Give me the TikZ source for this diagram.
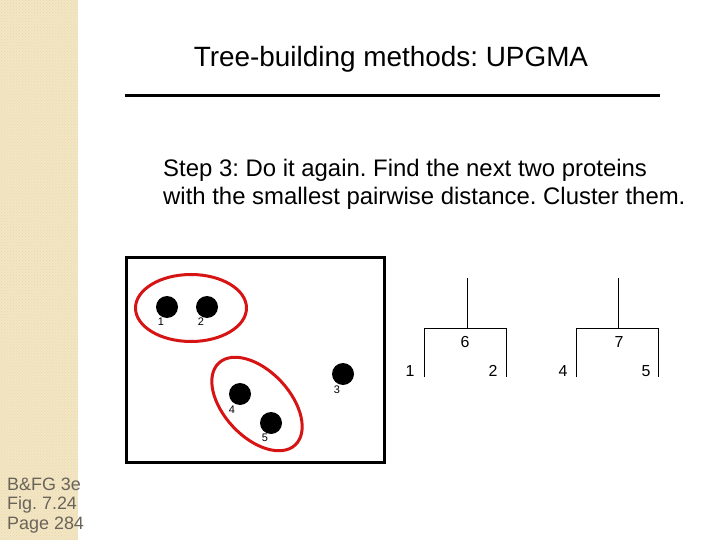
\documentclass[tikz,border=0pt]{standalone}
\usepackage{fontspec}
\setmainfont{Liberation Sans}
\usepackage{xcolor}
\usetikzlibrary{positioning,shapes.geometric,patterns}
\definecolor{stripe}{RGB}{243,230,196}
\definecolor{stripedot}{RGB}{232,214,170}
\definecolor{clusterred}{RGB}{214,20,20}
\definecolor{refgray}{RGB}{105,100,90}
\frenchspacing

\begin{document}
\begin{tikzpicture}[
  x=1bp, y=-1bp,
  title/.style={font=\fontsize{28}{32}\selectfont, anchor=base, inner sep=0pt},
  body/.style={font=\fontsize{24}{28}\selectfont, anchor=base west, inner sep=0pt},
  protein/.style={circle, fill=black, minimum size=22bp, inner sep=0pt},
  plabel/.style={font=\fontsize{11}{13}\selectfont, inner sep=0pt},
  cluster/.style={ellipse, draw=clusterred, line width=3bp, inner sep=0pt},
  tlabel/.style={font=\fontsize{16}{19}\selectfont, inner sep=0pt},
  branch/.style={line width=0.8bp},
  ref/.style={font=\fontsize{18}{21}\selectfont, text=refgray, anchor=base west, inner sep=0pt},
]
\useasboundingbox (0,0) rectangle (720,540);
% side stripe
\fill[stripe] (0,0) rectangle (78,540);
\fill[pattern=crosshatch dots, pattern color=stripedot] (0,0) rectangle (78,540);

% heading
\node[title] (head) at (391,67) {Tree-building methods: UPGMA};
\coordinate (ruleL) at (125,96);
\coordinate (ruleR) at (660,96);
\draw[line width=3bp] (ruleL) -- (ruleR);
\node[body] (step1) at (163,177) {Step 3: Do it again. Find the next two proteins};
\node[body] (step2) at (163,205) {with the smallest pairwise distance. Cluster them.};

% distance space
\node[draw, line width=3bp, minimum width=258bp, minimum height=204bp, inner sep=0pt] (space) at (255,360) {};
\node[protein] (p1) at (167,307) {};
\node[protein] (p2) at (207,307) {};
\node[protein] (p3) at (343,374) {};
\node[protein] (p4) at (240,394) {};
\node[protein] (p5) at (271,423) {};
\node[plabel] (l1) at (161,322) {1};
\node[plabel] (l2) at (201,322) {2};
\node[plabel] (l3) at (337,390) {3};
\node[plabel] (l4) at (232,410) {4};
\node[plabel] (l5) at (265,438) {5};
\node[cluster, minimum width=111bp, minimum height=67bp] (c12) at (191,308) {};
\node[cluster, minimum width=112bp, minimum height=66bp, rotate=-47] (c45) at (257,404) {};

% trees
\coordinate (r6) at (467,278);
\coordinate (n6) at (467,328);
\coordinate (a1) at (424,328);
\coordinate (a2) at (506,328);
\coordinate (b1) at (424,377);
\coordinate (b2) at (506,377);
\draw[branch] (r6) -- (n6);
\draw[branch] (b1) -- (a1) -- (a2) -- (b2);
\coordinate (r7) at (618,278);
\coordinate (n7) at (618,328);
\coordinate (a4) at (576,328);
\coordinate (a5) at (658,328);
\coordinate (b4) at (576,377);
\coordinate (b5) at (658,377);
\draw[branch] (r7) -- (n7);
\draw[branch] (b4) -- (a4) -- (a5) -- (b5);
\node[tlabel] (t6) at (465,342) {6};
\node[tlabel] (t7) at (619,342) {7};
\node[tlabel] (t1) at (410,371) {1};
\node[tlabel] (t2) at (493,371) {2};
\node[tlabel] (t4) at (563,371) {4};
\node[tlabel] (t5) at (646,371) {5};

% source
\node[ref] (src1) at (7,490) {B\&FG 3e};
\node[ref] (src2) at (7,509) {Fig. 7.24};
\node[ref] (src3) at (7,529) {Page 284};
\end{tikzpicture}
\end{document}
